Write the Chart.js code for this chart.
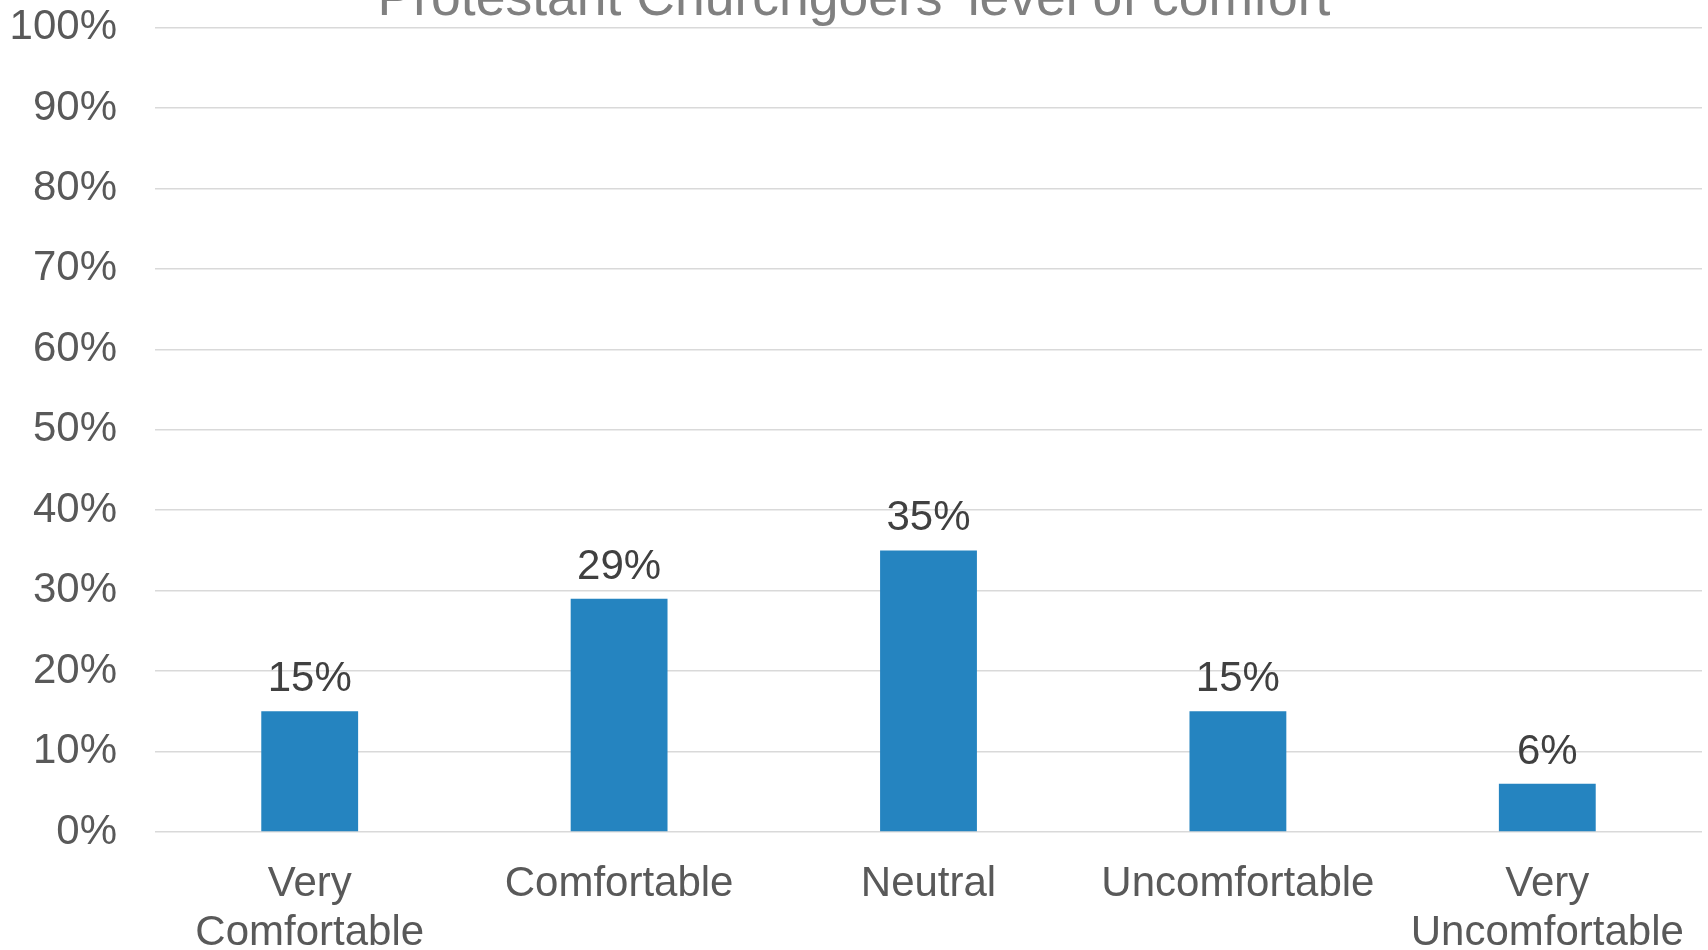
<!DOCTYPE html>
<html>
<head>
<meta charset="utf-8">
<script src="https://cdn.jsdelivr.net/npm/chart.js@4/dist/chart.umd.min.js"></script>
<style>
  html, body { margin: 0; padding: 0; background: #fff; }
  #wrap { width: 1708px; height: 950px; position: relative; }
</style>
</head>
<body>
<div id="wrap"><canvas id="comfortChart"></canvas></div>
<script>
const titleText = "Protestant Churchgoers' level of comfort";
const categories = [['Very', 'Comfortable'], 'Comfortable', 'Neutral', 'Uncomfortable', ['Very', 'Uncomfortable']];
const comfortShare = [15, 29, 35, 15, 6];
const yTicks = [0, 10, 20, 30, 40, 50, 60, 70, 80, 90, 100];

const FONT = "'Liberation Sans', Arial, sans-serif";

// Title sits partly above the canvas edge, so draw it by hand
const titlePlugin = {
    id: 'clippedTitle',
    afterDraw(chart) {
        const ctx = chart.ctx;
        ctx.save();
        ctx.font = '53.5px ' + FONT;
        ctx.fillStyle = '#808080';
        ctx.textAlign = 'center';
        ctx.textBaseline = 'alphabetic';
        ctx.fillText(titleText, chart.width / 2, 15);
        ctx.restore();
    }
};

// Value labels above each bar
const valueLabels = {
    id: 'valueLabels',
    afterDatasetsDraw(chart) {
        const ctx = chart.ctx;
        const meta = chart.getDatasetMeta(0);
        ctx.save();
        ctx.font = '42px ' + FONT;
        ctx.fillStyle = '#404040';
        ctx.textAlign = 'center';
        ctx.textBaseline = 'alphabetic';
        meta.data.forEach((bar, i) => {
            ctx.fillText(comfortShare[i] + '%', bar.x, bar.y - 20);
        });
        ctx.restore();
    }
};

new Chart(document.getElementById('comfortChart'), {
    type: 'bar',
    data: {
        labels: categories,
        datasets: [{
            data: comfortShare,
            backgroundColor: '#2584C0',
            borderWidth: 0,
            categoryPercentage: 1,
            barPercentage: 0.313
        }]
    },
    options: {
        responsive: true,
        maintainAspectRatio: false,
        animation: false,
        layout: { padding: { top: 27.5, right: 6, left: 0, bottom: 0 } },
        plugins: {
            legend: { display: false },
            tooltip: { enabled: false },
            title: { display: false }
        },
        scales: {
            x: {
                grid: { display: false, drawTicks: false },
                border: { display: false },
                ticks: {
                    color: '#595959',
                    font: { family: FONT, size: 42, lineHeight: 1.17 },
                    padding: 28,
                    maxRotation: 0,
                    autoSkip: false
                },
                afterFit: s => {
                    s.height = 118;
                    s.paddingLeft = 0;
                    s.paddingRight = 0;
                }
            },
            y: {
                min: 0,
                max: 100,
                afterBuildTicks: s => { s.ticks = yTicks.map(v => ({ value: v })); },
                grid: { color: '#D9D9D9', lineWidth: 1.5, drawTicks: false },
                border: { display: false },
                ticks: {
                    color: '#595959',
                    font: { family: FONT, size: 42 },
                    padding: 38,
                    callback: v => v + '%'
                },
                // fixed gutter; top edge is set by the layout padding
                afterFit: s => {
                    s.width = 155;
                    s.paddingTop = 0;
                    s.paddingBottom = 0;
                }
            }
        }
    },
    plugins: [valueLabels, titlePlugin]
});
</script>
</body>
</html>
